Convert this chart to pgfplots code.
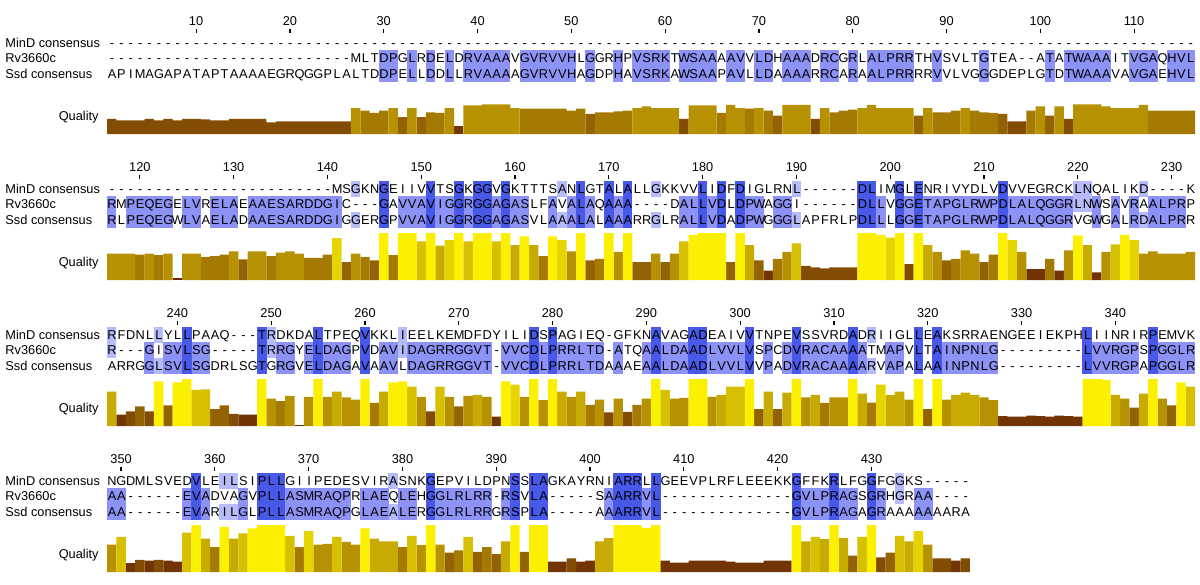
\documentclass[border=0pt]{standalone}
\usepackage{pgfplots}
\pgfplotsset{compat=1.18}
\usepackage{pgfplotstable}
\usepackage{fontspec}
\setmainfont{Liberation Sans}

\definecolor{hlD}{RGB}{72,88,232}
\definecolor{hlM}{RGB}{140,146,246}
\definecolor{hlL}{RGB}{182,187,250}
\definecolor{qbrown}{RGB}{105,40,5}
\definecolor{qyellow}{RGB}{250,240,0}
\colorlet{qb0}{qbrown}
\colorlet{qb1}{qyellow!6!qbrown}
\colorlet{qb2}{qyellow!18!qbrown}
\colorlet{qb3}{qyellow!29!qbrown}
\colorlet{qb4}{qyellow!41!qbrown}
\colorlet{qb5}{qyellow!53!qbrown}
\colorlet{qb6}{qyellow!65!qbrown}
\colorlet{qb7}{qyellow!76!qbrown}
\colorlet{qb8}{qyellow!86!qbrown}
\colorlet{qb9}{qyellow}

\newcommand\sz{\fontsize{6.4}{7.5}\selectfont}
\newdimen\cw \cw=4.69pt
\pgfdeclareplotmark{cell}{\pgfpathrectangle{\pgfpoint{-2.4pt}{-3.95pt}}{\pgfpoint{4.8pt}{7.9pt}}\pgfusepath{fill}}

\pgfplotsset{
  cellD/.style={only marks, mark=cell, mark options={fill=hlD, draw=none}},
  cellM/.style={only marks, mark=cell, mark options={fill=hlM, draw=none}},
  cellL/.style={only marks, mark=cell, mark options={fill=hlL, draw=none}},
  qbin/.style n args={3}{ybar, bar width=1, bar shift=0pt, draw=none, fill=#3, restrict y to domain=#1:#2},
}
\tikzset{seq/.style={font=\sz, inner sep=0pt, anchor=base west, yshift=-2.29pt}}

% row heights (1 unit = quality 1.0)
\def\yS{1.28}\def\yR{1.61}\def\yM{1.94}

% one box per alignment column
\newcommand\seqrow[1]{\seqrowi#1\relax}
\def\seqrowi#1{\ifx#1\relax\else\makebox[\cw][c]{#1}\expandafter\seqrowi\fi}

% identity shading from the three rows
\newcount\colno
\def\gobbleone#1{}
\def\firstofone#1{#1}
\def\appendcell#1#2{\edef#1{#1(\the\colno,#2)}}
\def\procol#1#2#3{%
  \ifx#1#2%
    \ifx#2#3%
      \ifx-#1\else\appendcell\dkcells\yM\appendcell\dkcells\yR\appendcell\dkcells\yS\fi
    \else
      \ifx-#1\else\appendcell\ltcells\yM\appendcell\ltcells\yR\fi
    \fi
  \else
    \ifx#2#3%
      \ifx-#2\else\appendcell\mdcells\yR\appendcell\mdcells\yS\fi
    \else
      \ifx#1#3%
        \ifx-#1\else\appendcell\ltcells\yM\appendcell\ltcells\yS\fi
      \fi
    \fi
  \fi}
\def\scanA#1#2\nil#3#4\nil#5#6\nil{%
  \procol#1#3#5%
  \advance\colno by 1\relax
  \if\relax\detokenize{#2}\relax\expandafter\gobbleone\else\expandafter\firstofone\fi
  {\scanA#2\nil#4\nil#6\nil}}

% quality per column
\pgfplotstableread[row sep=\\]{c q\\
1 0.32\\2 0.29\\3 0.29\\4 0.29\\5 0.32\\6 0.29\\7 0.32\\8 0.29\\9 0.32\\10 0.32\\
11 0.31\\12 0.29\\13 0.29\\14 0.32\\15 0.32\\16 0.32\\17 0.32\\18 0.25\\19 0.27\\20 0.27\\
21 0.27\\22 0.27\\23 0.27\\24 0.27\\25 0.27\\26 0.27\\27 0.55\\28 0.50\\29 0.45\\30 0.50\\
31 0.55\\32 0.36\\33 0.55\\34 0.36\\35 0.46\\36 0.45\\37 0.55\\38 0.18\\39 0.61\\40 0.61\\
41 0.63\\42 0.63\\43 0.63\\44 0.55\\45 0.54\\46 0.54\\47 0.54\\48 0.54\\49 0.54\\50 0.50\\
51 0.54\\52 0.43\\53 0.46\\54 0.46\\55 0.48\\56 0.50\\57 0.55\\58 0.59\\59 0.55\\60 0.55\\
61 0.55\\62 0.32\\63 0.61\\64 0.61\\65 0.61\\66 0.45\\67 0.62\\68 0.55\\69 0.54\\70 0.55\\
71 0.50\\72 0.39\\73 0.62\\74 0.62\\75 0.62\\76 0.32\\77 0.55\\78 0.46\\79 0.50\\80 0.52\\
81 0.55\\82 0.62\\83 0.55\\84 0.55\\85 0.55\\86 0.55\\87 0.39\\88 0.55\\89 0.46\\90 0.46\\
91 0.50\\92 0.55\\93 0.50\\94 0.46\\95 0.45\\96 0.43\\97 0.27\\98 0.27\\99 0.50\\100 0.59\\
101 0.39\\102 0.59\\103 0.32\\104 0.63\\105 0.63\\106 0.63\\107 0.59\\108 0.55\\109 0.55\\110 0.55\\
111 0.62\\112 0.50\\113 0.50\\114 0.50\\115 0.50\\116 0.50\\
}\qA
\pgfplotstableread[row sep=\\]{c q\\
117 0.56\\118 0.56\\119 0.56\\120 0.54\\121 0.56\\122 0.53\\123 0.56\\124 0.05\\125 0.56\\126 0.56\\
127 0.49\\128 0.51\\129 0.54\\130 0.61\\131 0.44\\132 0.61\\133 0.61\\134 0.51\\135 0.58\\136 0.61\\
137 0.56\\138 0.47\\139 0.47\\140 0.54\\141 0.89\\142 0.38\\143 0.56\\144 0.49\\145 0.42\\146 1.00\\
147 0.53\\148 1.00\\149 1.00\\150 0.82\\151 1.00\\152 0.73\\153 0.85\\154 1.00\\155 0.82\\156 1.00\\
157 1.00\\158 0.82\\159 1.00\\160 0.74\\161 0.93\\162 0.74\\163 0.51\\164 0.93\\165 0.85\\166 0.61\\
167 1.00\\168 0.42\\169 0.45\\170 1.00\\171 0.60\\172 1.00\\173 0.38\\174 0.38\\175 0.56\\176 0.38\\
177 0.56\\178 0.82\\179 0.96\\180 1.00\\181 1.00\\182 1.00\\183 0.38\\184 1.00\\185 0.74\\186 0.42\\
187 0.20\\188 0.45\\189 0.60\\190 0.78\\191 0.30\\192 0.27\\193 0.25\\194 0.27\\195 0.27\\196 0.27\\
197 1.00\\198 1.00\\199 0.96\\200 0.90\\201 1.00\\202 0.34\\203 1.00\\204 0.74\\205 0.60\\206 0.42\\
207 0.45\\208 0.63\\209 0.56\\210 0.38\\211 0.54\\212 1.00\\213 0.85\\214 0.60\\215 0.23\\216 0.23\\
217 0.45\\218 0.20\\219 0.63\\220 0.95\\221 0.74\\222 0.16\\223 0.60\\224 0.76\\225 0.96\\226 0.85\\
227 0.56\\228 0.61\\229 0.56\\230 0.56\\231 0.56\\232 0.60\\
}\qB
\pgfplotstableread[row sep=\\]{c q\\
233 0.73\\234 0.24\\235 0.31\\236 0.42\\237 0.31\\238 0.95\\239 0.44\\240 0.93\\241 1.00\\242 0.77\\
243 0.78\\244 0.36\\245 0.44\\246 0.26\\247 0.24\\248 0.24\\249 1.00\\250 0.58\\251 0.53\\252 0.64\\
253 0.02\\254 0.62\\255 1.00\\256 0.62\\257 0.73\\258 0.61\\259 0.56\\260 1.00\\261 0.49\\262 0.73\\
263 0.93\\264 0.95\\265 0.84\\266 0.62\\267 0.31\\268 0.84\\269 0.62\\270 0.42\\271 0.64\\272 0.66\\
273 0.62\\274 0.20\\275 0.95\\276 0.88\\277 0.62\\278 1.00\\279 0.55\\280 1.00\\281 0.73\\282 0.62\\
283 0.73\\284 0.45\\285 0.56\\286 0.29\\287 0.58\\288 0.30\\289 0.45\\290 0.58\\291 1.00\\292 0.77\\
293 0.58\\294 0.60\\295 1.00\\296 1.00\\297 0.62\\298 0.66\\299 0.84\\300 0.84\\301 1.00\\302 0.36\\
303 0.73\\304 0.36\\305 0.71\\306 1.00\\307 0.61\\308 0.66\\309 0.49\\310 0.61\\311 0.61\\312 1.00\\
313 0.69\\314 0.50\\315 0.88\\316 0.66\\317 0.73\\318 0.56\\319 1.00\\320 0.36\\321 1.00\\322 0.56\\
323 0.66\\324 0.71\\325 0.66\\326 0.61\\327 0.55\\328 0.21\\329 0.20\\330 0.20\\331 0.22\\332 0.21\\
333 0.20\\334 0.22\\335 0.21\\336 0.20\\337 1.00\\338 1.00\\339 0.98\\340 0.66\\341 0.58\\342 0.39\\
343 0.69\\344 1.00\\345 0.58\\346 0.44\\347 0.93\\348 0.84\\
}\qC
\pgfplotstableread[row sep=\\]{c q\\
349 0.58\\350 0.75\\351 0.19\\352 0.26\\353 0.24\\354 0.26\\355 0.24\\356 0.22\\357 0.84\\358 1.00\\
359 0.71\\360 0.53\\361 0.96\\362 0.71\\363 0.82\\364 0.93\\365 1.00\\366 1.00\\367 1.00\\368 0.77\\
369 0.53\\370 0.87\\371 0.58\\372 0.60\\373 0.75\\374 0.64\\375 0.58\\376 0.93\\377 0.71\\378 0.65\\
379 0.65\\380 0.53\\381 0.77\\382 0.57\\383 1.00\\384 0.58\\385 0.41\\386 0.46\\387 0.75\\388 0.43\\
389 0.53\\390 0.38\\391 0.65\\392 1.00\\393 0.43\\394 1.00\\395 1.00\\396 0.22\\397 0.22\\398 0.29\\
399 0.22\\400 0.24\\401 0.65\\402 0.72\\403 1.00\\404 1.00\\405 1.00\\406 0.94\\407 1.00\\408 0.24\\
409 0.20\\410 0.20\\411 0.24\\412 0.24\\413 0.24\\414 0.24\\415 0.22\\416 0.20\\417 0.20\\418 0.20\\
419 0.24\\420 0.24\\421 0.24\\422 1.00\\423 0.65\\424 0.75\\425 0.70\\426 1.00\\427 0.72\\428 0.35\\
429 0.75\\430 1.00\\431 0.31\\432 0.41\\433 0.77\\434 0.65\\435 0.87\\436 0.58\\437 0.29\\438 0.29\\
439 0.24\\440 0.29\\
}\qD

% #1 xmin, #2 xmax, #3 first column, #4 vertical offset, #5 ticks,
% #6 MinD row, #7 Rv3660c row, #8 Ssd row, #9 quality table
\newcommand\qblock[9]{%
  \colno=#3\relax
  \def\dkcells{}\def\mdcells{}\def\ltcells{}%
  \scanA#6\nil#7\nil#8\nil
  \begin{axis}[
    at={(53.5pt,#4)}, anchor=south west,
    x=4.69pt, y=23.5pt,
    xmin=#1, xmax=#2, ymin=0, ymax=2.14,
    clip=false,
    axis x line*=top, axis y line=none,
    x axis line style={draw=none},
    xtick={#5},
    tick align=outside, major tick length=2pt,
    tick style={black, line width=0.6pt},
    xticklabel style={font=\sz, inner sep=0pt, yshift=1.5pt},
    /pgf/number format/assume math mode=true,
  ]
  \addplot[qbin={0}{0.149}{qb0}] table[x=c,y=q]{#9};
  \addplot[qbin={0.15}{0.249}{qb1}] table[x=c,y=q]{#9};
  \addplot[qbin={0.25}{0.349}{qb2}] table[x=c,y=q]{#9};
  \addplot[qbin={0.35}{0.449}{qb3}] table[x=c,y=q]{#9};
  \addplot[qbin={0.45}{0.549}{qb4}] table[x=c,y=q]{#9};
  \addplot[qbin={0.55}{0.649}{qb5}] table[x=c,y=q]{#9};
  \addplot[qbin={0.65}{0.749}{qb6}] table[x=c,y=q]{#9};
  \addplot[qbin={0.75}{0.849}{qb7}] table[x=c,y=q]{#9};
  \addplot[qbin={0.85}{0.919}{qb8}] table[x=c,y=q]{#9};
  \addplot[qbin={0.92}{1.1}{qb9}] table[x=c,y=q]{#9};
  \ifx\ltcells\empty\else\edef\tmp{\noexpand\addplot[cellL] coordinates {\ltcells};}\tmp\fi
  \ifx\mdcells\empty\else\edef\tmp{\noexpand\addplot[cellM] coordinates {\mdcells};}\tmp\fi
  \ifx\dkcells\empty\else\edef\tmp{\noexpand\addplot[cellD] coordinates {\dkcells};}\tmp\fi
  \coordinate (rM) at (axis cs:#1,\yM);
  \coordinate (rR) at (axis cs:#1,\yR);
  \coordinate (rS) at (axis cs:#1,\yS);
  \coordinate (rQ) at (axis cs:#1,0.36);
  \end{axis}
  % letters go on top of the shading
  \node[seq] at (rM) {\seqrow{#6}};
  \node[seq] at (rR) {\seqrow{#7}};
  \node[seq] at (rS) {\seqrow{#8}};
  \node[seq, xshift=-51pt] at (rM) {MinD consensus};
  \node[seq, xshift=-51pt] at (rR) {Rv3660c};
  \node[seq, xshift=-51pt] at (rS) {Ssd consensus};
  \node[font=\sz, inner sep=0pt, anchor=east, xshift=-4pt] at (rQ) {Quality};
}

\begin{document}
\begin{tikzpicture}
\useasboundingbox (0pt,67pt) rectangle (600pt,-225pt);

\qblock{0.5}{116.5}{1}{0pt}{10,20,...,110}
{---------- ---------- ---------- ---------- ---------- ---------- ---------- ---------- ---------- ---------- ---------- ------}
{---------- ---------- ------MLTD PGLRDELDRV AAAVGVRVVH LGGRHPVSRK TWSAAAAVVL DHAAADRCGR LALPRRTHVS VLTGTEA--A TATWAAAITV GAQHVL}
{APIMAGAPAT APTAAAAEGR QGGPLALTDD PELLDDLLRV AAAAGVRVVH AGDPHAVSRK AWSAAPAVLL DAAAARRCAR AALPRRRRVV LVGGGDEPLG TDTWAAAVAV GAEHVL}
{\qA}

\qblock{116.5}{232.5}{117}{-73pt}{120,130,...,230}
{---------- ---------- ----MSGKNG EIIVVTSGKG GVGKTTTSAN LGTALALLGK KVVLIDFDIG LRNL------ DLIMGLENRI VYDLVDVVEG RCKLNQALIK D----K}
{RMPEQEGELV RELAEAAESA RDDGIC---G AVVAVIGGRG GAGASLFAVA LAQAAA---- DALLVDLDPW AGGI------ DLLVGGETAP GLRWPDLALQ GGRLNWSAVR AALPRP}
{RLPEQEGWLV AELADAAESA RDDGIGGERG PVVAVIGGRG GAGASVLAAA LALAAARRGL RALLVDADPW GGGLAPFRLP DLLLGGETAP GLRWPDLALQ GGRVGWGALR DALPRR}
{\qB}

\qblock{232.5}{348.5}{233}{-146pt}{240,250,...,340}
{RFDNLLYLLP AAQ---TRDK DALTPEQVKK LIEELKEMDF DYILIDSPAG IEQ-GFKNAV AGADEAIVVT NPEVSSVRDA DRIIGLLEAK SRRAENGEEI EKPHLIINRI RPEMVK}
{R---GISVLS G-----TRRG YELDAGPVDA VIDAGRRGGV T-VVCDLPRR LTD-ATQAAL DAADLVVLVS PCDVRACAAA ATMAPVLTAI NPNLG----- ----LVVRGP SPGGLR}
{ARRGGLSVLS GDRLSGTGRG VELDAGAVAA VLDAGRRGGV T-VVCDLPRR LTDAAAEAAL DAADLVVLVV PADVRACAAA ARVAPALAAI NPNLG----- ----LVVRGP APGGLR}
{\qC}

\qblock{348.5}{464.5}{349}{-219pt}{350,360,...,430}
{NGDMLSVEDV LEILSIPLLG IIPEDESVIR ASNKGEPVIL DPNSSLAGKA YRNIARRLLG EEVPLRFLEE EKKGFFKRLF GGFGGKS--- --}
{AA------EV ADVAGVPLLA SMRAQPRLAE QLEHGGLRLR R-RSVLA--- --SAARRVL- ---------- ---GVLPRAG SGRHGRAA-- --}
{AA------EV ARILGLPLLA SMRAQPGLAE ALERGGLRLR RGRSPLA--- --AAARRVL- ---------- ---GVLPRAG AGRAAAAAAA RA}
{\qD}
\end{tikzpicture}
\end{document}
